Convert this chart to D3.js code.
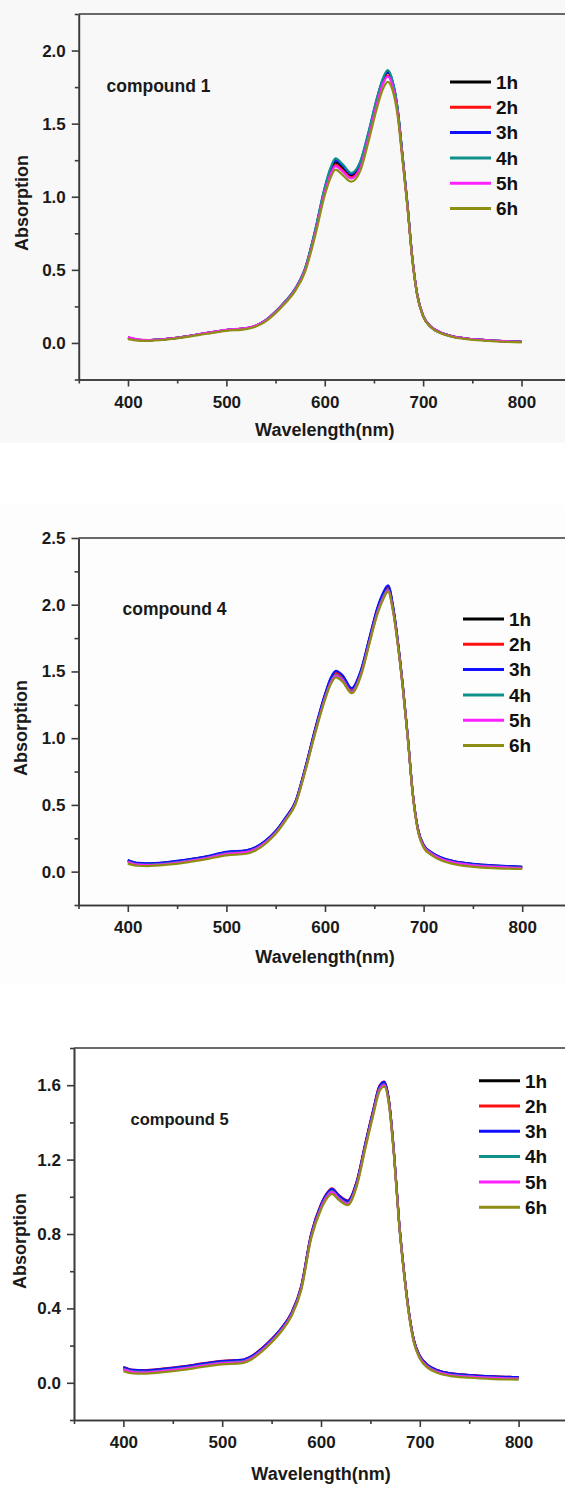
<!DOCTYPE html>
<html>
<head>
<meta charset="utf-8">
<script src="https://cdn.jsdelivr.net/npm/d3@7/dist/d3.min.js"></script>
<style>
  body { margin: 0; background: #ffffff; }
  svg { display: block; font-family: "Liberation Sans", Arial, sans-serif; }
  .tick text { font-weight: bold; font-size: 17px; fill: #1a1a1a; }
  .axis path, .axis line { stroke: #3a3a3a; stroke-width: 1.6; }
</style>
</head>
<body>
<svg id="chart" width="565" height="1485"></svg>
<script>
// ---- data ----
const wavelengths = [400,410,420,440,460,480,500,520,530,540,550,560,570,580,590,600,606,611,618,627,636,645,653,659,664,669,674,679,684,689,694,700,708,718,730,750,775,800];

const seriesNames = ["1h", "2h", "3h", "4h", "5h", "6h"];
const seriesColors = ["#000000", "#ff1010", "#1010ff", "#10908a", "#ff20ff", "#8e8e14"];

// compound 1
const c1_1h = [0.036,0.022,0.018,0.028,0.045,0.068,0.088,0.100,0.118,0.155,0.213,0.283,0.368,0.505,0.755,1.050,1.180,1.235,1.200,1.145,1.220,1.440,1.660,1.795,1.850,1.780,1.600,1.280,0.950,0.580,0.330,0.185,0.110,0.070,0.045,0.026,0.014,0.008];
const c1_2h = [0.036,0.022,0.018,0.028,0.045,0.068,0.088,0.100,0.118,0.155,0.212,0.282,0.366,0.501,0.747,1.038,1.163,1.218,1.183,1.132,1.205,1.425,1.642,1.775,1.830,1.762,1.585,1.270,0.945,0.578,0.330,0.185,0.110,0.070,0.045,0.026,0.014,0.008];
const c1_3h = [0.035,0.021,0.018,0.028,0.045,0.068,0.088,0.100,0.118,0.156,0.214,0.285,0.370,0.508,0.760,1.058,1.190,1.250,1.214,1.155,1.232,1.450,1.668,1.800,1.857,1.786,1.604,1.283,0.952,0.582,0.331,0.185,0.110,0.070,0.045,0.026,0.014,0.008];
const c1_4h = [0.035,0.021,0.018,0.028,0.045,0.068,0.088,0.100,0.118,0.156,0.215,0.286,0.372,0.511,0.765,1.065,1.200,1.262,1.224,1.162,1.240,1.458,1.675,1.808,1.866,1.792,1.608,1.286,0.954,0.583,0.332,0.186,0.110,0.070,0.045,0.026,0.014,0.008];
const c1_5h = [0.040,0.024,0.019,0.029,0.046,0.069,0.090,0.102,0.119,0.155,0.211,0.280,0.364,0.498,0.743,1.032,1.155,1.210,1.174,1.125,1.198,1.418,1.636,1.770,1.824,1.758,1.582,1.268,0.944,0.577,0.330,0.185,0.110,0.070,0.045,0.026,0.014,0.008];
const c1_6h = [0.026,0.016,0.014,0.024,0.041,0.063,0.083,0.095,0.112,0.148,0.204,0.273,0.356,0.487,0.727,1.010,1.131,1.185,1.150,1.103,1.175,1.392,1.605,1.735,1.786,1.728,1.560,1.252,0.932,0.570,0.325,0.180,0.106,0.066,0.041,0.022,0.010,0.004];

// compound 4
const c4_1h = [0.085,0.063,0.060,0.070,0.088,0.112,0.145,0.157,0.182,0.232,0.302,0.402,0.522,0.775,1.064,1.324,1.447,1.498,1.463,1.370,1.494,1.744,1.968,2.082,2.138,1.984,1.715,1.386,1.008,0.589,0.329,0.199,0.144,0.104,0.079,0.057,0.044,0.035];
const c4_2h = [0.082,0.060,0.057,0.067,0.085,0.109,0.142,0.154,0.179,0.229,0.299,0.399,0.519,0.771,1.058,1.316,1.439,1.490,1.455,1.363,1.487,1.737,1.960,2.074,2.130,1.977,1.709,1.382,1.005,0.586,0.326,0.196,0.141,0.101,0.076,0.054,0.041,0.032];
const c4_3h = [0.088,0.065,0.062,0.072,0.090,0.115,0.148,0.160,0.185,0.235,0.305,0.405,0.525,0.780,1.070,1.330,1.455,1.505,1.470,1.375,1.500,1.750,1.975,2.090,2.145,1.990,1.720,1.390,1.010,0.590,0.330,0.200,0.145,0.105,0.080,0.058,0.045,0.036];
const c4_4h = [0.076,0.055,0.052,0.062,0.080,0.104,0.137,0.149,0.174,0.224,0.294,0.393,0.512,0.763,1.048,1.304,1.425,1.475,1.441,1.350,1.474,1.722,1.944,2.058,2.114,1.964,1.700,1.375,1.000,0.582,0.322,0.192,0.137,0.097,0.072,0.050,0.037,0.028];
const c4_5h = [0.072,0.052,0.049,0.059,0.077,0.101,0.134,0.146,0.171,0.221,0.291,0.390,0.509,0.759,1.043,1.298,1.419,1.468,1.434,1.345,1.468,1.716,1.937,2.050,2.106,1.958,1.696,1.372,0.998,0.580,0.320,0.190,0.135,0.095,0.070,0.048,0.035,0.026];
const c4_6h = [0.060,0.044,0.042,0.052,0.070,0.094,0.122,0.134,0.160,0.212,0.284,0.383,0.503,0.752,1.035,1.288,1.407,1.455,1.422,1.337,1.458,1.706,1.926,2.040,2.098,1.950,1.690,1.367,0.994,0.575,0.313,0.180,0.124,0.084,0.058,0.036,0.025,0.020];

// compound 5
const c5_1h = [0.082,0.067,0.065,0.073,0.085,0.101,0.115,0.121,0.142,0.182,0.232,0.292,0.372,0.516,0.795,0.955,1.015,1.040,1.006,0.976,1.076,1.286,1.466,1.590,1.615,1.506,1.227,0.868,0.598,0.379,0.229,0.144,0.094,0.067,0.051,0.041,0.034,0.030];
const c5_2h = [0.085,0.070,0.068,0.076,0.088,0.104,0.118,0.124,0.145,0.185,0.235,0.295,0.375,0.520,0.800,0.960,1.020,1.045,1.010,0.980,1.080,1.290,1.470,1.595,1.620,1.510,1.230,0.870,0.600,0.380,0.230,0.145,0.095,0.068,0.052,0.042,0.035,0.031];
const c5_3h = [0.084,0.069,0.067,0.075,0.087,0.103,0.117,0.123,0.144,0.184,0.234,0.294,0.374,0.518,0.798,0.958,1.018,1.043,1.008,0.978,1.078,1.288,1.468,1.592,1.618,1.508,1.229,0.869,0.599,0.380,0.230,0.145,0.095,0.068,0.052,0.042,0.035,0.031];
const c5_4h = [0.075,0.061,0.059,0.067,0.079,0.095,0.109,0.115,0.136,0.176,0.226,0.286,0.366,0.509,0.787,0.946,1.006,1.030,0.996,0.967,1.066,1.276,1.455,1.579,1.605,1.497,1.220,0.862,0.592,0.373,0.223,0.138,0.088,0.061,0.045,0.035,0.028,0.024];
const c5_5h = [0.072,0.058,0.056,0.064,0.076,0.092,0.106,0.112,0.133,0.173,0.223,0.283,0.363,0.506,0.783,0.942,1.002,1.026,0.992,0.963,1.062,1.272,1.451,1.575,1.601,1.493,1.217,0.860,0.590,0.371,0.221,0.136,0.086,0.059,0.043,0.033,0.026,0.022];
const c5_6h = [0.062,0.050,0.049,0.057,0.069,0.085,0.099,0.106,0.127,0.167,0.217,0.277,0.357,0.498,0.774,0.932,0.992,1.016,0.983,0.955,1.053,1.262,1.441,1.565,1.592,1.485,1.210,0.855,0.585,0.366,0.215,0.130,0.080,0.053,0.037,0.027,0.020,0.017];

const xTicks = [400, 500, 600, 700, 800];
const xMinorTicks = [350, 450, 550, 650, 750, 850];

const panels = [
  { label: "compound 1", series: [c1_1h, c1_2h, c1_3h, c1_4h, c1_5h, c1_6h],
    yDomain: [-0.25, 2.25], yTicks: [0, 0.5, 1.0, 1.5, 2.0], yMinor: [-0.25, 0.25, 0.75, 1.25, 1.75, 2.25] },
  { label: "compound 4", series: [c4_1h, c4_2h, c4_3h, c4_4h, c4_5h, c4_6h],
    yDomain: [-0.25, 2.5], yTicks: [0, 0.5, 1.0, 1.5, 2.0, 2.5], yMinor: [-0.25, 0.25, 0.75, 1.25, 1.75, 2.25] },
  { label: "compound 5", series: [c5_1h, c5_2h, c5_3h, c5_4h, c5_5h, c5_6h],
    yDomain: [-0.2, 1.8], yTicks: [0, 0.4, 0.8, 1.2, 1.6], yMinor: [-0.2, 0.2, 0.6, 1.0, 1.4, 1.8] }
];

// ---- layout of each panel (pixels) ----
const layout = [
  { left: 78.8, right: 570.7, top: 14, bottom: 379.5, xTitleY: 436, yTitleX: 28, yTitleY: 203,
    labelX: 106.5, labelY: 91.5, labelSize: 17.5, legX: 450, legY: 82, bg: "#f8f8f8", bgTop: 0, bgBottom: 443 },
  { left: 78.5, right: 571.5, top: 538, bottom: 905, xTitleY: 963, yTitleX: 26.5, yTitleY: 728,
    labelX: 122.5, labelY: 615, labelSize: 17.5, legX: 463, legY: 619, bg: "#fdfdfd", bgTop: 505, bgBottom: 985 },
  { left: 74, right: 568, top: 1048, bottom: 1420, xTitleY: 1480, yTitleX: 26, yTitleY: 1241,
    labelX: 130.5, labelY: 1125, labelSize: 16.5, legX: 479, legY: 1080.7, bg: "#ffffff", bgTop: 1030, bgBottom: 1485 }
];

const svg = d3.select("#chart");

panels.forEach((p, i) => {
  const L = layout[i];
  const g = svg.append("g");

  g.append("rect").attr("x", 0).attr("y", L.bgTop).attr("width", 565)
    .attr("height", L.bgBottom - L.bgTop).attr("fill", L.bg);

  const x = d3.scaleLinear().domain([350, 850]).range([L.left, L.right]);
  const y = d3.scaleLinear().domain(p.yDomain).range([L.bottom, L.top]);

  // frame (top + right)
  g.append("path")
    .attr("d", `M${L.left},${L.top}H${L.right}V${L.bottom}`)
    .attr("fill", "none").attr("stroke", "#3a3a3a").attr("stroke-width", 1.6);

  // x axis
  g.append("g").attr("class", "axis")
    .attr("transform", `translate(0,${L.bottom})`)
    .call(d3.axisBottom(x).tickValues(xMinorTicks).tickSize(4).tickSizeOuter(0).tickFormat(""));
  const xa = g.append("g").attr("class", "axis")
    .attr("transform", `translate(0,${L.bottom})`)
    .call(d3.axisBottom(x).tickValues(xTicks).tickSize(7).tickSizeOuter(0).tickPadding(9).tickFormat(d3.format("d")));
  xa.selectAll(".tick text").attr("dy", "0.71em");

  // y axis
  g.append("g").attr("class", "axis")
    .attr("transform", `translate(${L.left},0)`)
    .call(d3.axisLeft(y).tickValues(p.yMinor).tickSize(4).tickSizeOuter(0).tickFormat(""));
  g.append("g").attr("class", "axis")
    .attr("transform", `translate(${L.left},0)`)
    .call(d3.axisLeft(y).tickValues(p.yTicks).tickSize(7).tickSizeOuter(0).tickPadding(6).tickFormat(d3.format(".1f")));

  // axis titles
  g.append("text")
    .attr("x", (L.left + L.right) / 2).attr("y", L.xTitleY)
    .attr("text-anchor", "middle").attr("font-size", 18).attr("font-weight", "bold").attr("fill", "#1a1a1a")
    .text("Wavelength(nm)");
  g.append("text")
    .attr("transform", `translate(${L.yTitleX},${L.yTitleY}) rotate(-90)`)
    .attr("text-anchor", "middle").attr("font-size", 18).attr("font-weight", "bold").attr("fill", "#1a1a1a")
    .text("Absorption");

  // curves
  const line = d3.line()
    .x((d, k) => x(wavelengths[k]))
    .y(d => y(d))
    .curve(d3.curveMonotoneX);

  p.series.forEach((s, k) => {
    g.append("path")
      .datum(s)
      .attr("d", line)
      .attr("fill", "none")
      .attr("stroke", seriesColors[k])
      .attr("stroke-width", 2.2)
      .attr("stroke-linejoin", "round");
  });

  // compound label
  g.append("text")
    .attr("x", L.labelX).attr("y", L.labelY)
    .attr("font-size", L.labelSize).attr("font-weight", "bold").attr("fill", "#1a1a1a")
    .text(p.label);

  // legend
  const leg = g.append("g").attr("transform", `translate(${L.legX},${L.legY})`);
  seriesNames.forEach((name, k) => {
    const row = leg.append("g").attr("transform", `translate(0,${k * 25.3})`);
    row.append("line").attr("x1", 0).attr("x2", 41).attr("y1", 0).attr("y2", 0)
      .attr("stroke", seriesColors[k]).attr("stroke-width", 3);
    row.append("text").attr("x", 46).attr("y", 6.8)
      .attr("font-size", 19).attr("font-weight", "bold").attr("fill", "#111")
      .text(name);
  });
});
</script>
</body>
</html>
